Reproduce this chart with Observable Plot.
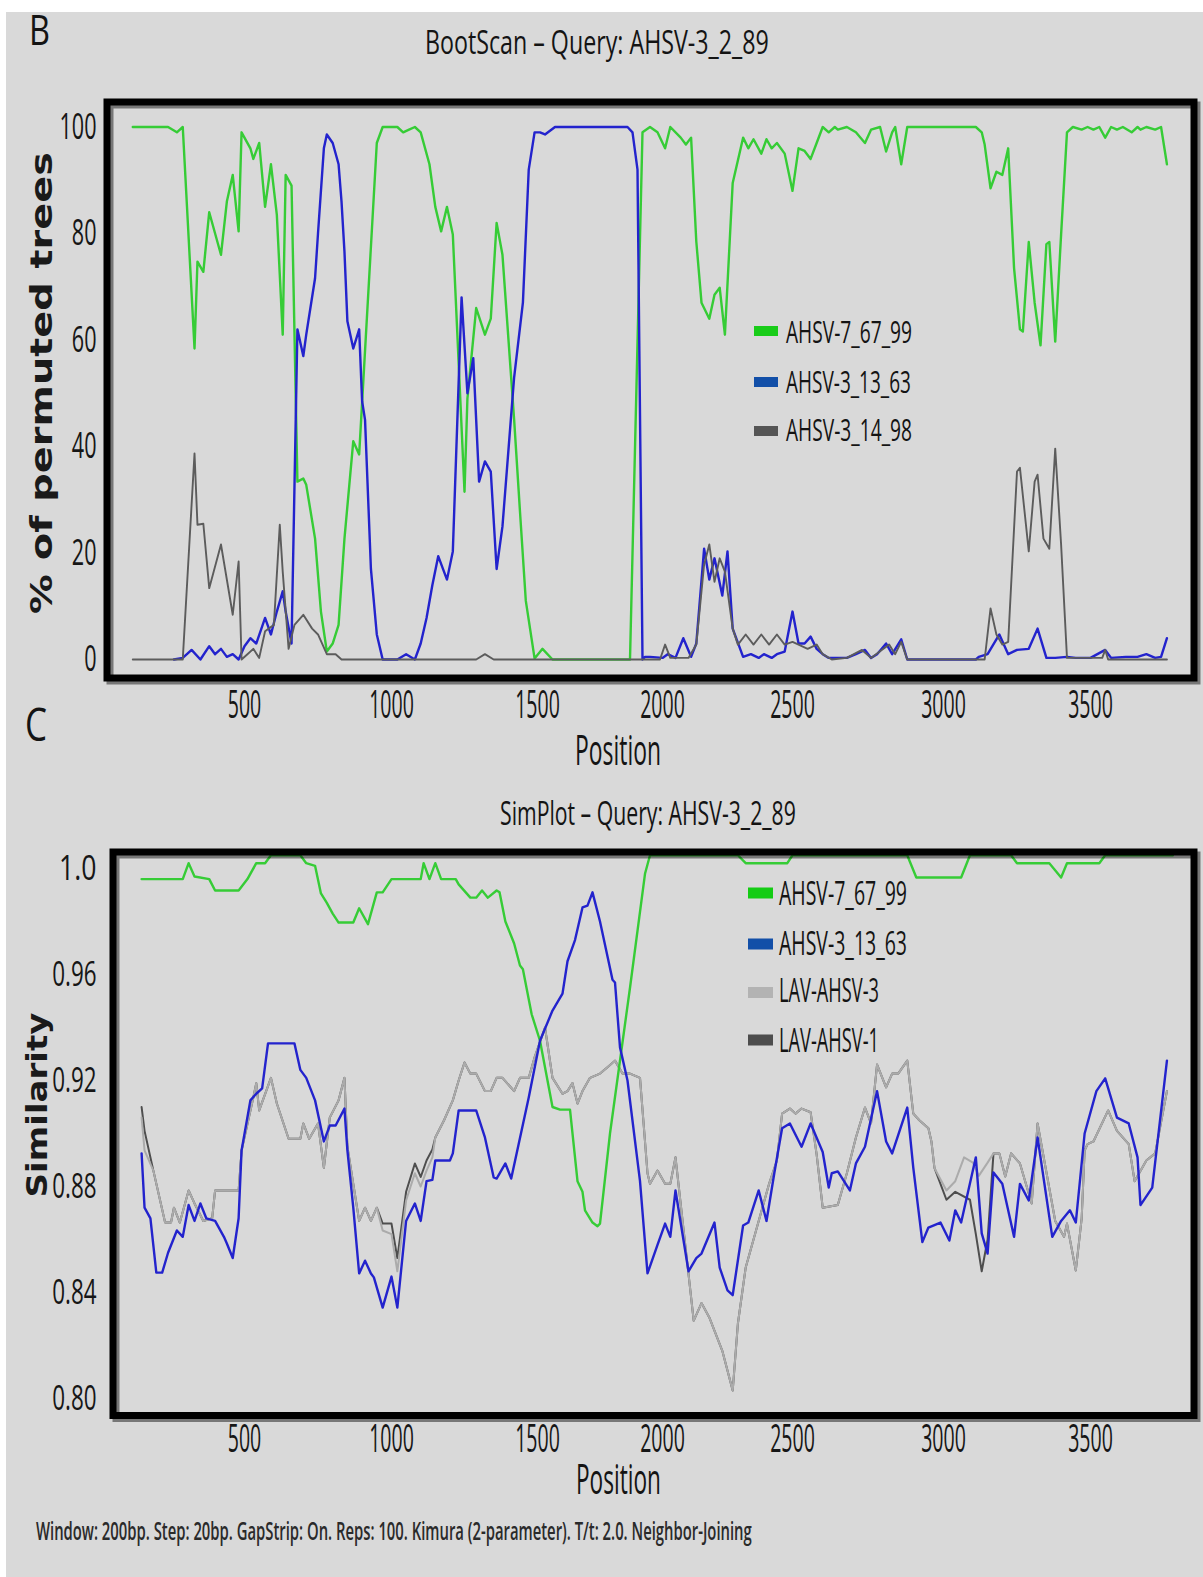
<!DOCTYPE html>
<html><head><meta charset="utf-8">
<script src="https://cdn.jsdelivr.net/npm/d3@7"></script>
<script src="https://cdn.jsdelivr.net/npm/@observablehq/plot@0.6"></script>
<style>
html,body{margin:0;padding:0;background:#fff;}
#page{position:relative;width:1203px;height:1577px;overflow:hidden;background:#fff;}
#bg{position:absolute;left:6px;top:12px;right:0;bottom:0;background:#d9d9d9;}
</style></head><body><div id="page"><div id="bg"></div></div>
<script>
// ---------- axis ticks ----------
const positionTicks = [500, 1000, 1500, 2000, 2500, 3000, 3500];
const bootTicks = [0, 20, 40, 60, 80, 100];
const simTicks = [0.80, 0.84, 0.88, 0.92, 0.96, 1.0];
const simTickLabels = ["0.80", "0.84", "0.88", "0.92", "0.96", "1.0"];

// ---------- series names ----------
const bootNames = ["AHSV-7_67_99", "AHSV-3_13_63", "AHSV-3_14_98"];
const simNames = ["AHSV-7_67_99", "AHSV-3_13_63", "LAV-AHSV-3", "LAV-AHSV-1"];

// ---------- BootScan: [position, % of permuted trees] ----------
const bootGreen = [[120,100],[240,100],[270,99],[290,100],[330,58.4],[340,74.7],[360,72.8],[380,84],[420,76],[440,86],[460,91],[480,80.4],[490,99],[520,96],[530,94],[550,97],[570,85],[590,93],[610,83.5],[630,61],[640,91],[660,89],[680,33.4],[700,34],[710,32.8],[740,22.7],[760,9],[780,1.5],[800,3],[820,6.5],[840,22.7],[870,41],[890,38.5],[950,97],[970,100],[1020,100],[1040,99],[1060,99.5],[1080,100],[1100,99],[1130,93],[1150,85],[1170,80.4],[1190,85],[1210,79.8],[1250,31.5],[1260,49],[1290,66],[1320,61],[1340,64],[1360,82],[1380,76],[1420,45],[1440,27.8],[1460,11],[1490,0.2],[1520,2],[1560,0],[1870,0],[1920,99],[1950,100],[1980,99],[2010,96],[2030,100],[2070,98],[2090,96.7],[2110,98],[2130,78.5],[2150,67],[2180,64],[2200,68.5],[2220,69.8],[2240,61],[2270,89.5],[2310,98],[2330,96],[2350,97.7],[2380,95],[2400,97.7],[2420,96],[2440,97],[2470,95],[2500,88],[2520,96],[2540,95.5],[2560,94],[2580,97],[2600,100],[2620,99],[2640,100],[2650,99.5],[2680,100],[2710,99],[2740,97],[2760,99.5],[2790,100],[2810,95.4],[2830,99],[2840,100],[2860,93],[2880,100],[3110,100],[3130,99],[3140,96.7],[3160,88.5],[3180,91.6],[3200,91],[3220,96],[3240,73.5],[3260,62],[3270,61.6],[3290,78.4],[3310,67],[3330,59],[3350,78],[3360,78.4],[3380,59.7],[3400,79.8],[3420,99],[3440,100],[3470,99.5],[3490,100],[3510,99.5],[3530,100],[3550,98],[3570,100],[3590,99.5],[3610,100],[3640,99],[3660,100],[3670,99.5],[3690,100],[3720,99.5],[3740,100],[3760,93]];
const bootBlue = [[260,0],[290,0.3],[320,1.8],[350,0],[380,2.5],[400,1],[420,2],[440,0.5],[460,1],[480,0],[500,2.5],[520,4],[540,3],[570,7.8],[590,4.7],[610,9],[630,12.8],[640,9],[660,3],[680,62],[700,57],[710,61],[740,71.6],[750,80],[770,96],[780,98.6],[800,97],[820,93],[830,86],[840,76.6],[850,63.5],[870,58.4],[890,62],[900,48.5],[910,45],[930,17],[950,4.7],[970,0],[1020,0],[1050,1],[1080,0],[1100,3],[1120,7.8],[1140,14],[1160,19.4],[1190,15],[1210,20.3],[1240,68],[1260,50],[1280,56.6],[1300,33.4],[1320,37.2],[1340,35.3],[1360,17],[1380,25],[1400,39],[1420,53],[1450,67],[1470,92],[1490,99],[1510,99],[1530,98.6],[1570,100],[1860,100],[1880,99],[1900,92],[1920,0],[1930,0.5],[1950,0.5],[2000,0.3],[2020,1],[2050,0.3],[2080,4],[2110,0.5],[2130,3],[2160,20.8],[2180,15],[2200,19],[2230,12],[2250,20.3],[2270,5.8],[2310,0.5],[2340,1],[2370,0.3],[2390,1],[2420,0.3],[2440,1],[2470,1.5],[2500,9],[2520,3],[2540,3],[2560,4.3],[2580,2],[2600,1],[2620,0.3],[2680,0.3],[2710,1],[2740,1.8],[2760,0.3],[2780,1],[2810,3],[2830,1],[2860,3.8],[2880,0],[3110,0],[3120,0.5],[3150,1],[3190,4.7],[3220,1],[3250,1.8],[3290,2],[3320,5.8],[3350,0.3],[3380,0.3],[3420,0.5],[3450,0.3],[3500,0.3],[3550,1.8],[3570,0.3],[3620,0.5],[3660,0.5],[3690,1],[3720,0.3],[3740,0.5],[3760,4]];
const bootGray = [[120,0],[290,0],[330,38.7],[340,25.3],[360,25.5],[380,13.4],[420,21.6],[460,8.4],[480,18.4],[490,0],[510,1],[530,2],[550,0.3],[570,5.3],[600,6.5],[620,25.3],[630,16.5],[650,2],[670,6.5],[700,8.4],[730,5.8],[750,4.7],[780,1],[810,1],[830,0],[1290,0],[1320,1],[1350,0],[1990,0],[2010,2.8],[2030,0.3],[2100,0.3],[2130,2.8],[2160,17.8],[2180,21.6],[2200,14.6],[2220,19],[2240,16.5],[2270,5.8],[2290,2.8],[2320,4.7],[2350,2.8],[2380,4.7],[2410,2.8],[2440,4.7],[2470,2.8],[2500,3.3],[2520,2.8],[2550,2],[2580,2.8],[2600,1],[2630,0],[2680,0.3],[2730,1.8],[2760,0.3],[2820,2.8],[2840,1],[2860,3.3],[2880,0],[3140,0],[3160,9.6],[3180,4.7],[3200,2.8],[3220,3.3],[3250,35.3],[3260,36],[3290,20.3],[3310,33.4],[3320,34.7],[3340,22.7],[3360,20.8],[3380,39.6],[3400,21.6],[3420,0.3],[3540,0.3],[3550,1.8],[3560,0],[3760,0]];

// ---------- SimPlot: [position, similarity] ----------
const simGreen = [[150,0.996],[290,0.996],[310,1.002],[330,0.997],[380,0.996],[400,0.9917],[480,0.9917],[510,0.996],[540,1.002],[570,1.002],[590,1.005],[690,1.005],[710,1.002],[740,1.001],[760,0.9906],[780,0.987],[800,0.983],[820,0.9796],[870,0.9796],[890,0.985],[920,0.979],[950,0.991],[970,0.991],[1000,0.996],[1100,0.996],[1110,1.002],[1130,0.996],[1150,1.002],[1170,0.996],[1220,0.996],[1230,0.994],[1270,0.989],[1290,0.989],[1310,0.9917],[1330,0.989],[1360,0.9917],[1370,0.991],[1390,0.980],[1420,0.9717],[1440,0.9634],[1450,0.962],[1480,0.945],[1510,0.935],[1560,0.910],[1590,0.909],[1630,0.909],[1660,0.882],[1680,0.878],[1690,0.871],[1720,0.8664],[1740,0.865],[1750,0.866],[1790,0.900],[1870,0.955],[1930,0.998],[1950,1.005],[2290,1.005],[2320,1.002],[2480,1.002],[2500,1.005],[2880,1.005],[2910,0.9966],[3060,0.9966],[3090,1.005],[3230,1.005],[3250,1.002],[3360,1.002],[3400,0.9966],[3420,1.002],[3530,1.002],[3550,1.005],[3780,1.005]];
const simBlue = [[150,0.8925],[160,0.872],[180,0.868],[200,0.8475],[220,0.8475],[240,0.855],[270,0.8634],[290,0.861],[310,0.873],[330,0.867],[350,0.8736],[370,0.868],[400,0.867],[430,0.861],[440,0.8585],[460,0.853],[480,0.868],[490,0.8936],[520,0.9125],[540,0.915],[560,0.917],[580,0.934],[670,0.934],[690,0.924],[710,0.921],[740,0.9125],[770,0.897],[790,0.903],[810,0.903],[840,0.9094],[850,0.8936],[870,0.872],[890,0.8472],[910,0.852],[930,0.8472],[940,0.8457],[970,0.8343],[1000,0.846],[1020,0.8343],[1050,0.867],[1080,0.8736],[1100,0.867],[1120,0.882],[1140,0.8825],[1150,0.8898],[1200,0.8898],[1210,0.8925],[1230,0.9087],[1290,0.9087],[1320,0.8985],[1350,0.8834],[1360,0.883],[1390,0.8887],[1410,0.883],[1470,0.9136],[1510,0.935],[1560,0.9464],[1600,0.9528],[1620,0.965],[1650,0.973],[1680,0.9853],[1700,0.986],[1720,0.991],[1750,0.980],[1800,0.958],[1810,0.957],[1830,0.9325],[1860,0.920],[1910,0.882],[1940,0.8472],[1980,0.858],[2010,0.866],[2030,0.861],[2050,0.8785],[2100,0.848],[2130,0.853],[2150,0.8547],[2200,0.8664],[2220,0.8494],[2250,0.8408],[2270,0.839],[2310,0.8653],[2330,0.8664],[2370,0.8785],[2400,0.867],[2430,0.885],[2460,0.902],[2490,0.9038],[2530,0.895],[2560,0.9038],[2600,0.893],[2620,0.8796],[2630,0.885],[2650,0.8857],[2690,0.8785],[2710,0.8887],[2740,0.895],[2780,0.916],[2810,0.897],[2830,0.8925],[2880,0.9098],[2900,0.887],[2930,0.859],[2950,0.8645],[2990,0.8664],[3020,0.8596],[3040,0.871],[3060,0.8664],[3110,0.891],[3130,0.8623],[3150,0.8547],[3170,0.8853],[3200,0.881],[3240,0.861],[3260,0.881],[3290,0.8747],[3320,0.8985],[3370,0.861],[3400,0.867],[3430,0.871],[3450,0.8664],[3480,0.900],[3520,0.916],[3550,0.9208],[3590,0.906],[3630,0.9038],[3660,0.891],[3670,0.873],[3710,0.8796],[3760,0.9275]];
const simLav3 = [[150,0.906],[160,0.8936],[190,0.886],[230,0.8664],[250,0.8664],[260,0.872],[280,0.8664],[310,0.8785],[330,0.8736],[360,0.867],[390,0.868],[400,0.8785],[480,0.8785],[490,0.8936],[530,0.9136],[540,0.919],[550,0.9087],[590,0.921],[610,0.9113],[650,0.898],[690,0.898],[700,0.9038],[720,0.898],[750,0.9038],[770,0.887],[790,0.906],[820,0.9125],[840,0.921],[850,0.895],[870,0.881],[890,0.867],[910,0.872],[930,0.867],[950,0.872],[970,0.8634],[1000,0.862],[1020,0.848],[1050,0.8747],[1080,0.885],[1100,0.880],[1120,0.886],[1140,0.891],[1150,0.8985],[1180,0.905],[1210,0.9125],[1230,0.920],[1250,0.9268],[1270,0.9226],[1290,0.9226],[1320,0.916],[1340,0.916],[1360,0.921],[1380,0.921],[1420,0.916],[1440,0.921],[1470,0.921],[1490,0.9287],[1530,0.940],[1560,0.921],[1600,0.915],[1620,0.916],[1640,0.919],[1660,0.9113],[1680,0.916],[1710,0.921],[1750,0.9226],[1780,0.925],[1810,0.9275],[1840,0.9226],[1870,0.9226],[1910,0.921],[1940,0.885],[1950,0.881],[1980,0.886],[2010,0.881],[2030,0.881],[2050,0.891],[2120,0.8294],[2150,0.836],[2180,0.8306],[2230,0.818],[2270,0.803],[2290,0.8283],[2320,0.8494],[2370,0.867],[2410,0.881],[2440,0.8898],[2460,0.9075],[2490,0.9094],[2510,0.9075],[2530,0.9094],[2560,0.908],[2580,0.892],[2600,0.872],[2650,0.873],[2680,0.885],[2710,0.8985],[2740,0.9098],[2760,0.9038],[2780,0.926],[2810,0.9174],[2830,0.9226],[2850,0.9226],[2880,0.9275],[2900,0.9075],[2920,0.905],[2950,0.902],[2960,0.897],[2970,0.887],[3010,0.8785],[3040,0.882],[3070,0.891],[3100,0.889],[3120,0.884],[3150,0.889],[3170,0.8925],[3190,0.8925],[3210,0.8838],[3230,0.8925],[3260,0.8887],[3300,0.8736],[3320,0.9038],[3380,0.867],[3410,0.861],[3420,0.866],[3450,0.8483],[3470,0.868],[3480,0.8936],[3490,0.896],[3510,0.897],[3560,0.9087],[3590,0.901],[3630,0.896],[3650,0.882],[3690,0.8898],[3720,0.8925],[3760,0.916]];
const simLav1 = [[150,0.910],[160,0.901],[190,0.886],[230,0.8664],[250,0.8664],[260,0.872],[280,0.8664],[310,0.8785],[330,0.8736],[360,0.867],[390,0.868],[400,0.8785],[480,0.8785],[490,0.8936],[530,0.9136],[540,0.919],[550,0.9087],[590,0.921],[610,0.9113],[650,0.898],[690,0.898],[700,0.9038],[720,0.898],[750,0.9038],[770,0.887],[790,0.906],[820,0.9125],[840,0.921],[850,0.895],[870,0.881],[890,0.867],[910,0.872],[930,0.867],[950,0.872],[970,0.866],[1000,0.866],[1020,0.853],[1050,0.878],[1080,0.8887],[1100,0.8836],[1120,0.8898],[1140,0.894],[1150,0.8985],[1180,0.905],[1210,0.9125],[1230,0.920],[1250,0.9268],[1270,0.9226],[1290,0.9226],[1320,0.916],[1340,0.916],[1360,0.921],[1380,0.921],[1420,0.916],[1440,0.921],[1470,0.921],[1490,0.9287],[1530,0.940],[1560,0.921],[1600,0.915],[1620,0.916],[1640,0.919],[1660,0.9113],[1680,0.916],[1710,0.921],[1750,0.9226],[1780,0.925],[1810,0.9275],[1840,0.9226],[1870,0.9226],[1910,0.921],[1940,0.885],[1950,0.881],[1980,0.886],[2010,0.881],[2030,0.881],[2050,0.891],[2120,0.8294],[2150,0.836],[2180,0.8306],[2230,0.818],[2270,0.803],[2290,0.8283],[2320,0.8494],[2370,0.867],[2410,0.881],[2440,0.8898],[2460,0.9075],[2490,0.9094],[2510,0.9075],[2530,0.9094],[2560,0.908],[2580,0.892],[2600,0.872],[2650,0.873],[2680,0.885],[2710,0.8985],[2740,0.9098],[2760,0.9038],[2780,0.926],[2810,0.9174],[2830,0.9226],[2850,0.9226],[2880,0.9275],[2900,0.9075],[2920,0.905],[2950,0.902],[2960,0.897],[2970,0.887],[3010,0.875],[3040,0.878],[3090,0.875],[3110,0.862],[3130,0.848],[3150,0.86],[3170,0.8925],[3190,0.8925],[3210,0.8838],[3230,0.8925],[3260,0.8887],[3300,0.8736],[3320,0.9038],[3380,0.867],[3410,0.861],[3420,0.866],[3450,0.8483],[3470,0.868],[3480,0.8936],[3490,0.896],[3510,0.897],[3560,0.9087],[3590,0.901],[3630,0.896],[3650,0.882],[3690,0.8898],[3720,0.8925],[3760,0.916]];

// ---------- scale configuration (the reference axis is slightly irregular) ----------
const xDomain = [0, 500, 1000, 1500, 2000, 2500, 3000, 3500, 4000];
const xRange = [97, 244, 391, 537, 662, 792, 943, 1090, 1237];

const COL = {green: "#36cc36", blue: "#2323cd", gray: "#5c5c5c", light: "#ababab", dark: "#4e4e4e"};
const FONT = "'Open Sans', 'Noto Sans', sans-serif";
const page = document.getElementById("page");

// narrow the tick labels (the reference's lettering is tall and condensed)
function squeeze(svg, xFactor, yFactor, special = {}) {
  const xs = new Set(positionTicks.map(String));
  svg.querySelectorAll("text").forEach(t => {
    const s = t.textContent.trim();
    const k = special[s] ?? (xs.has(s) ? xFactor : yFactor);
    const tr = t.getAttribute("transform") || "";
    t.setAttribute("transform", `${tr} scale(${k},1)`);
  });
}
function place(svg, top) {
  svg.style.position = "absolute"; svg.style.left = "0px"; svg.style.top = top + "px";
  page.appendChild(svg);
}
const lineOpts = (c, w) => ({x: d => d[0], y: d => d[1], stroke: c, strokeWidth: w, strokeLinejoin: "round", clip: true});

// ---------- Panel B: BootScan ----------
const plotB = Plot.plot({
  width: 1203, height: 730,
  marginLeft: 106.5, marginRight: 9.5, marginTop: 101.5, marginBottom: 52.5,
  style: {background: "transparent", overflow: "visible", fontFamily: FONT},
  x: {type: "linear", domain: xDomain, range: xRange, axis: null},
  y: {domain: [0, 100], range: [659, 126.5], axis: null},
  marks: [
    Plot.line(bootGreen, lineOpts(COL.green, 2.4)),
    Plot.line(bootBlue, lineOpts(COL.blue, 2.4)),
    Plot.line(bootGray, lineOpts(COL.gray, 1.9)),
    Plot.frame({stroke: "#000", strokeOpacity: 0.45, strokeWidth: 7, dx: 3, dy: 3}),
    Plot.frame({stroke: "#000", strokeWidth: 7}),
    Plot.text(positionTicks, {x: d => d, text: d => String(d), frameAnchor: "bottom", dy: 12.5, lineAnchor: "top", fontSize: 39, fill: "#161616", fontFamily: FONT}),
    Plot.text(bootTicks, {y: d => d, text: d => String(d), frameAnchor: "left", dx: -10.5, textAnchor: "end", lineAnchor: "middle", fontSize: 36, fill: "#161616", fontFamily: FONT})
  ]
});
place(plotB, 0);
squeeze(plotB, 0.5, 0.6);

// ---------- Panel C: SimPlot ----------
const plotC = Plot.plot({
  width: 1203, height: 700,
  marginLeft: 112.5, marginRight: 9.5, marginTop: 71.5, marginBottom: 65,
  style: {background: "transparent", overflow: "visible", fontFamily: FONT},
  x: {type: "linear", domain: xDomain, range: xRange, axis: null},
  y: {domain: [0.80, 1.0], range: [618, 88], axis: null},
  marks: [
    Plot.line(simLav1, lineOpts(COL.dark, 2)),
    Plot.line(simLav3, lineOpts(COL.light, 2)),
    Plot.line(simGreen, lineOpts(COL.green, 2.4)),
    Plot.line(simBlue, lineOpts(COL.blue, 2.4)),
    Plot.frame({stroke: "#000", strokeOpacity: 0.45, strokeWidth: 7, dx: 3, dy: 3}),
    Plot.frame({stroke: "#000", strokeWidth: 7}),
    Plot.text(positionTicks, {x: d => d, text: d => String(d), frameAnchor: "bottom", dy: 9, lineAnchor: "top", fontSize: 39, fill: "#161616", fontFamily: FONT}),
    Plot.text(simTicks, {y: d => d, text: (d, i) => simTickLabels[i], frameAnchor: "left", dx: -16.5, textAnchor: "end", lineAnchor: "middle", fontSize: 35, fill: "#161616", fontFamily: FONT})
  ]
});
place(plotC, 780);
squeeze(plotC, 0.5, 0.64, {"1.0": 0.76});

// ---------- text overlay: panel letters, titles, axis names, legends, caption ----------
const ov = d3.select(page).append("svg").attr("width", 1203).attr("height", 1577)
  .style("position", "absolute").style("left", "0px").style("top", "0px");
function label(s, o) {
  const t = ov.append("text").text(s)
    .attr("font-family", o.family || FONT).attr("font-size", o.size)
    .attr("font-weight", o.weight || 400).attr("fill", o.fill || "#141414");
  if (o.anchor) t.attr("text-anchor", o.anchor);
  const natural = t.node().getComputedTextLength() || 1;
  const k = o.len ? o.len / natural : 1;
  t.attr("transform", `translate(${o.x},${o.y})${o.rotate ? ` rotate(${o.rotate})` : ""} scale(${k.toFixed(4)},1)`);
  return t;
}
label("B", {x: 29, y: 45, size: 42, len: 21});
label("C", {x: 25, y: 741, size: 45, len: 22});
label("BootScan – Query: AHSV-3_2_89", {x: 425, y: 54, size: 33, len: 344});
label("SimPlot – Query: AHSV-3_2_89", {x: 500, y: 825, size: 32, len: 296});
label("Position", {x: 575, y: 765, size: 42, len: 86});
label("Position", {x: 576, y: 1494, size: 42, len: 85});
label("% of permuted trees", {x: 52, y: 383, size: 30, weight: 700, family: "'DejaVu Sans', sans-serif", anchor: "middle", len: 462, rotate: -90, fill: "#1a1a1a"});
label("Similarity", {x: 47, y: 1105, size: 29, weight: 700, family: "'DejaVu Sans', sans-serif", anchor: "middle", len: 185, rotate: -90, fill: "#1a1a1a"});
label("Window: 200bp. Step: 20bp. GapStrip: On. Reps: 100. Kimura (2-parameter). T/t: 2.0. Neighbor-Joining", {x: 36, y: 1540, size: 25, weight: 600, len: 716, fill: "#2a2a2a"});

const legB = [
  {name: bootNames[0], color: "#19cc19", cy: 331, base: 343, len: 126},
  {name: bootNames[1], color: "#124fa8", cy: 382, base: 393, len: 125},
  {name: bootNames[2], color: "#555555", cy: 431, base: 441, len: 126}
];
legB.forEach(l => {
  ov.append("rect").attr("x", 754).attr("y", l.cy - 5).attr("width", 24).attr("height", 10).attr("fill", l.color);
  label(l.name, {x: 786, y: l.base, size: 31, len: l.len});
});
const legC = [
  {name: simNames[0], color: "#14cc14", cy: 893, base: 905, len: 128},
  {name: simNames[1], color: "#124fa8", cy: 944, base: 955, len: 128},
  {name: simNames[2], color: "#b3b3b3", cy: 992.5, base: 1002, len: 100},
  {name: simNames[3], color: "#4d4d4d", cy: 1040, base: 1052, len: 100}
];
legC.forEach(l => {
  ov.append("rect").attr("x", 748).attr("y", l.cy - 5.5).attr("width", 25).attr("height", 11).attr("fill", l.color);
  label(l.name, {x: 779, y: l.base, size: 32, len: l.len});
});
</script></body></html>
